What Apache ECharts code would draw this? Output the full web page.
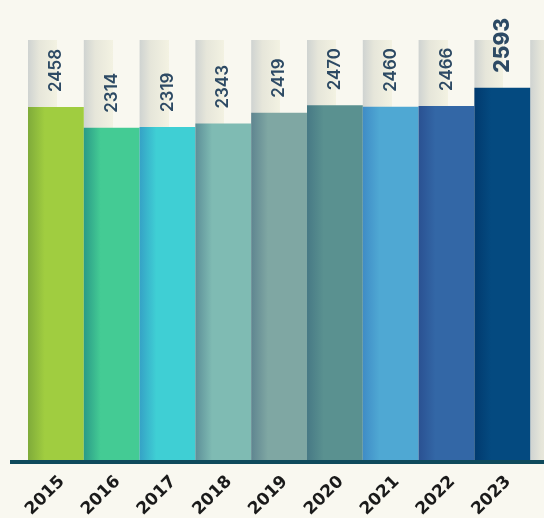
<!DOCTYPE html>
<html>
<head>
<meta charset="utf-8">
<style>
  html, body { margin: 0; padding: 0; background: #f9f8f0; }
  #chart { width: 544px; height: 518px; }
</style>
<script src="https://cdn.jsdelivr.net/npm/echarts@6/dist/echarts.min.js"></script>
</head>
<body>
<div id="chart"></div>
<script>
const categories = ['2015', '2016', '2017', '2018', '2019', '2020', '2021', '2022', '2023', ''];
const values = [2458, 2314, 2319, 2343, 2419, 2470, 2460, 2466, 2593, null];
const barColors = ['#a0cd40', '#44cb94', '#3fcfd4', '#7fbbb3', '#7fa7a3', '#5a9190', '#4fa8d3', '#3367a6', '#044a80', '#ffffff'];
const barShades = ['#7fab3a', '#2a9a88', '#35a2c6', '#5d8f98', '#5f8590', '#477985', '#3f8cc6', '#2a5192', '#013a6e', '#ffffff'];
const axisMax = 2925;

const chart = echarts.init(document.getElementById('chart'));
const font = 'Inter, "DejaVu Sans", sans-serif';
const axisFont = '"DejaVu Sans", sans-serif';

function grad(dark, main) {
  return new echarts.graphic.LinearGradient(0, 0, 1, 0, [
    { offset: 0, color: dark },
    { offset: 0.3, color: main },
    { offset: 1, color: main }
  ]);
}
const bgGrad = new echarts.graphic.LinearGradient(0, 0, 1, 0, [
  { offset: 0, color: '#cfd3d1' },
  { offset: 0.2, color: '#e6e6da' },
  { offset: 0.52, color: '#f3f2e2' },
  { offset: 0.52, color: '#f9f8f0' },
  { offset: 1, color: '#f9f8f0' }
]);

const lastIdx = 8;
const mainData = values.map((v, i) => {
  if (v == null) return null;
  const item = { value: v, itemStyle: { color: grad(barShades[i], barColors[i]) } };
  if (i === lastIdx) {
    item.label = { fontSize: 21, fontWeight: 800 };
  }
  return item;
});

chart.setOption({
  backgroundColor: '#f9f8f0',
  animation: false,
  grid: { left: 28, width: 558, top: 40, bottom: 58, containLabel: false, outerBoundsMode: 'none' },
  xAxis: {
    type: 'category',
    data: categories,
    axisLine: { show: false },
    axisTick: { show: false },
    axisLabel: {
      rotate: 45,
      interval: 0,
      margin: 13,
      align: 'right',
      verticalAlign: 'top',
      fontFamily: axisFont,
      fontSize: 17,
      fontWeight: 'bold',
      color: '#1a1a1a'
    }
  },
  yAxis: {
    type: 'value',
    min: 0,
    max: axisMax,
    show: false,
    splitLine: { show: false }
  },
  series: [
    {
      type: 'bar',
      data: categories.map(() => axisMax),
      barWidth: '100%',
      barGap: '-100%',
      itemStyle: { color: bgGrad },
      silent: true,
      z: 1
    },
    {
      type: 'bar',
      data: mainData,
      barWidth: '100%',
      z: 2,
      label: {
        show: true,
        position: 'top',
        rotate: 90,
        align: 'left',
        verticalAlign: 'middle',
        distance: 15,
        fontFamily: font,
        fontSize: 17,
        fontWeight: 600,
        color: '#2d4a64'
      }
    }
  ],
  graphic: [
    {
      type: 'rect',
      shape: { x: 10, y: 460, width: 534, height: 4 },
      style: { fill: '#0f4a5c' },
      z: 10
    }
  ]
});
</script>
</body>
</html>
